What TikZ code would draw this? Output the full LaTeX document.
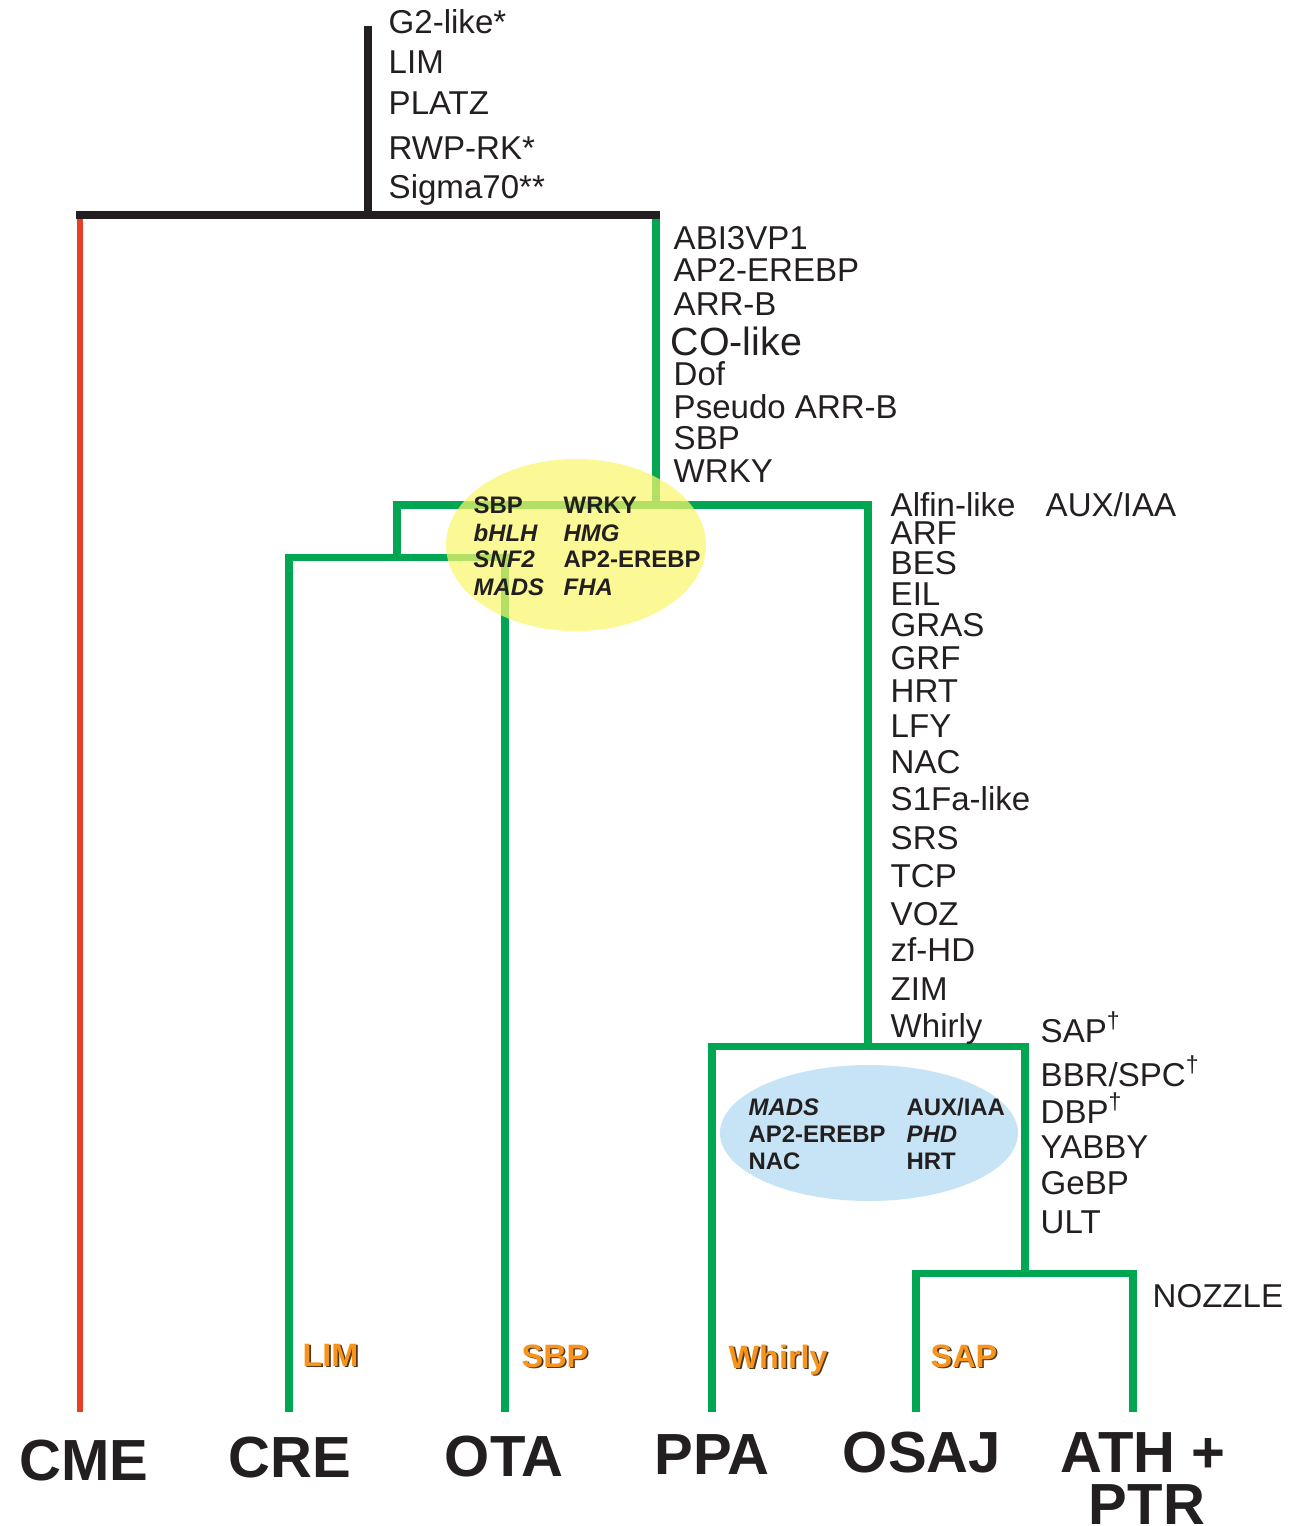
\documentclass[tikz,border=0pt]{standalone}
\usepackage{fontspec}
\setmainfont{Liberation Sans}
\definecolor{branchgreen}{RGB}{0,166,81}
\definecolor{branchred}{RGB}{232,62,36}
\definecolor{textdark}{RGB}{35,31,32}
\definecolor{labelorange}{RGB}{247,148,29}
\definecolor{shadowbrown}{RGB}{80,55,25}
\definecolor{yellowblob}{RGB}{250,245,110}
\definecolor{blueblob}{RGB}{198,228,246}

\newcommand{\famsize}{\fontsize{9.4}{11}\selectfont}
\newcommand{\bigfamsize}{\fontsize{11.2}{13}\selectfont}
\newcommand{\blobsize}{\fontsize{6.8}{8}\selectfont\bfseries}
\newcommand{\bluesize}{\fontsize{6.8}{8}\selectfont\bfseries}
\newcommand{\orangesize}{\fontsize{9.2}{11}\selectfont\bfseries}
\newcommand{\taxonsize}{\fontsize{16.5}{18}\selectfont\bfseries}

\newcommand{\shadowlabel}[3]{
    % orange label with a dark drop shadow
    \node[orangelabel, text=shadowbrown, xshift=0.45pt, yshift=-0.45pt] (#1-shadow) at (#2) {#3};
    \node[orangelabel] (#1) at (#2) {#3};
}

\begin{document}
\begin{tikzpicture}[x=0.01cm, y=-0.01cm,
    rootbranch/.style={line width=2.3pt, textdark, line cap=rect},
    greenbranch/.style={line width=2pt, branchgreen, line join=miter},
    redbranch/.style={line width=1.7pt, branchred},
    famlabel/.style={anchor=base west, inner sep=0pt, text=textdark, font=\famsize},
    blobtext/.style={anchor=base west, inner sep=0pt, text=textdark, font=\blobsize},
    bluetext/.style={anchor=base west, inner sep=0pt, text=textdark, font=\bluesize},
    orangelabel/.style={anchor=base west, inner sep=0pt, text=labelorange, font=\orangesize},
    taxon/.style={anchor=base, inner sep=0pt, text=textdark, font=\taxonsize}]

    \useasboundingbox (0,0) rectangle (1289,1526);

    % branch points
    \coordinate (top) at (368,30);
    \coordinate (root) at (368,215);
    \coordinate (rootL) at (80,215);
    \coordinate (rootR) at (656,215);
    \coordinate (plantae) at (656,505);
    \coordinate (splitL) at (397,505);
    \coordinate (splitR) at (868,505);
    \coordinate (chloro) at (397,557);
    \coordinate (creTop) at (289,557);
    \coordinate (otaTop) at (505,557);
    \coordinate (embryo) at (868,1046);
    \coordinate (ppaTop) at (712,1046);
    \coordinate (seed) at (1025,1046);
    \coordinate (angio) at (1025,1273);
    \coordinate (osajTop) at (916,1273);
    \coordinate (athTop) at (1133,1273);

    % leaves
    \coordinate (cme) at (80,1412);
    \coordinate (cre) at (289,1412);
    \coordinate (ota) at (505,1412);
    \coordinate (ppa) at (712,1412);
    \coordinate (osaj) at (916,1412);
    \coordinate (ath) at (1133,1412);

    % red alga branch
    \draw[redbranch] (rootL) -- (cme);

    % green lineage
    \draw[greenbranch] (rootR) -- (plantae);
    \draw[greenbranch] (chloro) -- (splitL) -- (splitR) -- (embryo);
    \draw[greenbranch] (cre) -- (creTop) -- (otaTop) -- (ota);
    \draw[greenbranch] (ppa) -- (ppaTop) -- (seed) -- (angio);
    \draw[greenbranch] (osaj) -- (osajTop) -- (athTop) -- (ath);

    % root in black
    \draw[rootbranch] (top) -- (root);
    \draw[rootbranch] (rootL) -- (rootR);

    % families gained at the root
    \foreach \fam/\ypos [count=\i] in {G2-like*/33, LIM/73, PLATZ/114, RWP-RK*/159, Sigma70**/198}
    \node[famlabel] (root-\i) at (388,\ypos) {\fam};

    % families gained in green plants
    \foreach \fam/\ypos [count=\i] in {ABI3VP1/249, AP2-EREBP/281, ARR-B/315, Dof/385, Pseudo ARR-B/418, SBP/449, WRKY/482}
    \node[famlabel] (green-\i) at (673,\ypos) {\fam};
    \node[famlabel, font=\bigfamsize] (green-co) at (670,355) {CO-like};

    % families gained in land plants
    \foreach \fam/\ypos [count=\i] in {Alfin-like/516, ARF/544, BES/574, EIL/605, GRAS/636, GRF/669, HRT/702, LFY/737, NAC/773, S1Fa-like/810, SRS/849, TCP/887, VOZ/925, zf-HD/961, ZIM/1000, Whirly/1037}
    \node[famlabel] (land-\i) at (890,\ypos) {\fam};
    \node[famlabel] (land-aux) at (1045,516) {AUX/IAA};

    % families gained in seed plants
    \foreach \fam/\ypos [count=\i] in {{SAP\textsuperscript{†}}/1042, {BBR/SPC\textsuperscript{†}}/1086, {DBP\textsuperscript{†}}/1123, YABBY/1158, GeBP/1194, ULT/1233}
    \node[famlabel] (seed-\i) at (1040,\ypos) {\fam};
    \node[famlabel] (eudicot) at (1152,1307) {NOZZLE};

    % yellow blob: expanded families in algae
    \fill[yellowblob, opacity=0.72] (576,545) ellipse [x radius=130, y radius=86];
    \foreach \fam/\ypos [count=\i] in {SBP/513, \textit{bHLH}/541, \textit{SNF2}/567, \textit{MADS}/595}
    \node[blobtext] (yel-a\i) at (473,\ypos) {\fam};
    \foreach \fam/\ypos [count=\i] in {WRKY/513, \textit{HMG}/541, AP2-EREBP/567, \textit{FHA}/595}
    \node[blobtext] (yel-b\i) at (563,\ypos) {\fam};

    % blue blob: expanded families in land plants
    \fill[blueblob] (869,1133) ellipse [x radius=149, y radius=68];
    \foreach \fam/\ypos [count=\i] in {\textit{MADS}/1115, AP2-EREBP/1142, NAC/1169}
    \node[bluetext] (blue-a\i) at (748,\ypos) {\fam};
    \foreach \fam/\ypos [count=\i] in {{AUX/IAA}/1115, \textit{PHD}/1142, HRT/1169}
    \node[bluetext] (blue-b\i) at (906,\ypos) {\fam};

    % families lost
    \coordinate (lossCre) at (302,1366);
    \coordinate (lossOta) at (521,1367);
    \coordinate (lossPpa) at (728,1368);
    \coordinate (lossOsaj) at (930,1367);
    \shadowlabel{loss-cre}{lossCre}{LIM}
    \shadowlabel{loss-ota}{lossOta}{SBP}
    \shadowlabel{loss-ppa}{lossPpa}{Whirly}
    \shadowlabel{loss-osaj}{lossOsaj}{SAP}

    % species
    \node[taxon] (cme-label) at (84,1480) {CME};
    \node[taxon] (cre-label) at (290,1477) {CRE};
    \node[taxon] (ota-label) at (504,1476) {OTA};
    \node[taxon] (ppa-label) at (712,1474) {PPA};
    \node[taxon] (osaj-label) at (922,1472) {OSAJ};
    \node[taxon] (ath-label) at (1143,1472) {ATH +};
    \node[taxon] (ptr-label) at (1147,1524) {PTR};

\end{tikzpicture}
\end{document}
